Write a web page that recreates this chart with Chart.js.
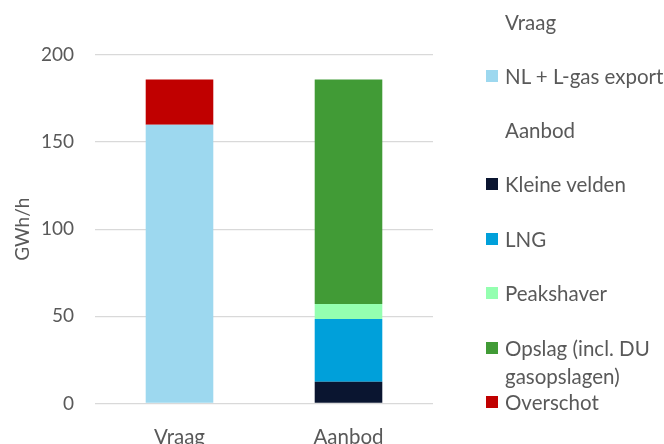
<!DOCTYPE html>
<html>
<head>
<meta charset="utf-8">
<script src="https://cdn.jsdelivr.net/npm/chart.js@4/dist/chart.umd.min.js"></script>
<style>
  html, body { margin: 0; padding: 0; background: #fff; }
  body { width: 664px; height: 444px; overflow: hidden; position: relative; font-family: Lato, "Open Sans", sans-serif; }
  #wrap { position: absolute; left: 0; top: 0; width: 664px; height: 472px; }
  #legend { position: absolute; left: 486px; top: 0; width: 178px; color: #595959; font-size: 20.5px; }
  .li { position: absolute; left: 0; display: flex; align-items: flex-start; line-height: 28px; }
  .sw { width: 12px; height: 12px; margin-top: 8px; margin-right: 7px; flex: none; }
  .tx { white-space: nowrap; }
  .wrapTx { white-space: normal; width: 155px; }
  .hd { padding-left: 19px; }
</style>
</head>
<body>
<div id="wrap"><canvas id="c" width="664" height="472"></canvas></div>
<div id="legend"></div>
<script>
const categories = ['Vraag', 'Aanbod'];
const nlExport     = [160, null];
const overschot    = [26, null];
const kleineVelden = [null, 12.5];
const lng          = [null, 36];
const peakshaver   = [null, 8.5];
const opslag       = [null, 129];
const yTicks = [0, 50, 100, 150, 200];

const seriesNames = {
  nl: 'NL + L-gas export',
  kv: 'Kleine velden',
  lng: 'LNG',
  ps: 'Peakshaver',
  op: 'Opslag (incl. DU gasopslagen)',
  ov: 'Overschot'
};
const colors = {
  nl: '#9DD8EF', ov: '#C00000', kv: '#0A1530', lng: '#00A0DA', ps: '#94FFB0', op: '#419B36'
};
const textColor = '#595959';
const gridColor = '#D9D9D9';
const fontFamily = 'Lato, "Open Sans", sans-serif';

const datasets = [
  { label: seriesNames.nl, data: nlExport, backgroundColor: colors.nl },
  { label: seriesNames.ov, data: overschot, backgroundColor: colors.ov },
  { label: seriesNames.kv, data: kleineVelden, backgroundColor: colors.kv },
  { label: seriesNames.lng, data: lng, backgroundColor: colors.lng },
  { label: seriesNames.ps, data: peakshaver, backgroundColor: colors.ps },
  { label: seriesNames.op, data: opslag, backgroundColor: colors.op }
];
datasets.forEach(d => { d.barPercentage = 0.5; d.categoryPercentage = 0.8; d.borderWidth = 0; });

new Chart(document.getElementById('c'), {
  type: 'bar',
  data: { labels: categories, datasets },
  options: {
    responsive: false,
    animation: false,
    layout: { padding: { top: 55, right: 231, left: 0, bottom: 0 } },
    plugins: { legend: { display: false }, tooltip: { enabled: false } },
    scales: {
      x: {
        stacked: true,
        grid: { display: false, drawTicks: false },
        border: { display: false },
        ticks: { color: textColor, font: { family: fontFamily, size: 20.5 }, padding: 22 }
      },
      y: {
        stacked: true,
        min: 0, max: 200,
        afterBuildTicks: s => { s.ticks = yTicks.map(v => ({ value: v })); },
        afterFit: s => { s.width = 95; },
        grid: { color: gridColor, lineWidth: 1.3, drawTicks: false },
        border: { display: false },
        ticks: { color: textColor, font: { family: fontFamily, size: 19 }, padding: 21 },
        title: { display: true, text: 'GWh/h', color: textColor, font: { family: fontFamily, size: 19 }, padding: { top: 11, bottom: 0 } }
      }
    }
  }
});

// HTML legend
const legendItems = [
  { text: 'Vraag', header: true },
  { key: 'nl' },
  { text: 'Aanbod', header: true },
  { key: 'kv' }, { key: 'lng' }, { key: 'ps' }, { key: 'op', wrap: true }, { key: 'ov' }
];
const legendTops = [8, 62, 116, 170, 225, 279, 334, 388];
const lg = document.getElementById('legend');
legendItems.forEach((it, i) => {
  const row = document.createElement('div');
  row.className = 'li';
  row.style.top = legendTops[i] + 'px';
  if (it.header) {
    const t = document.createElement('div');
    t.className = 'tx hd'; t.textContent = it.text;
    row.appendChild(t);
  } else {
    const sw = document.createElement('div');
    sw.className = 'sw'; sw.style.background = colors[it.key];
    const t = document.createElement('div');
    t.className = it.wrap ? 'wrapTx' : 'tx'; t.textContent = seriesNames[it.key];
    row.appendChild(sw); row.appendChild(t);
  }
  lg.appendChild(row);
});
</script>
</body>
</html>
